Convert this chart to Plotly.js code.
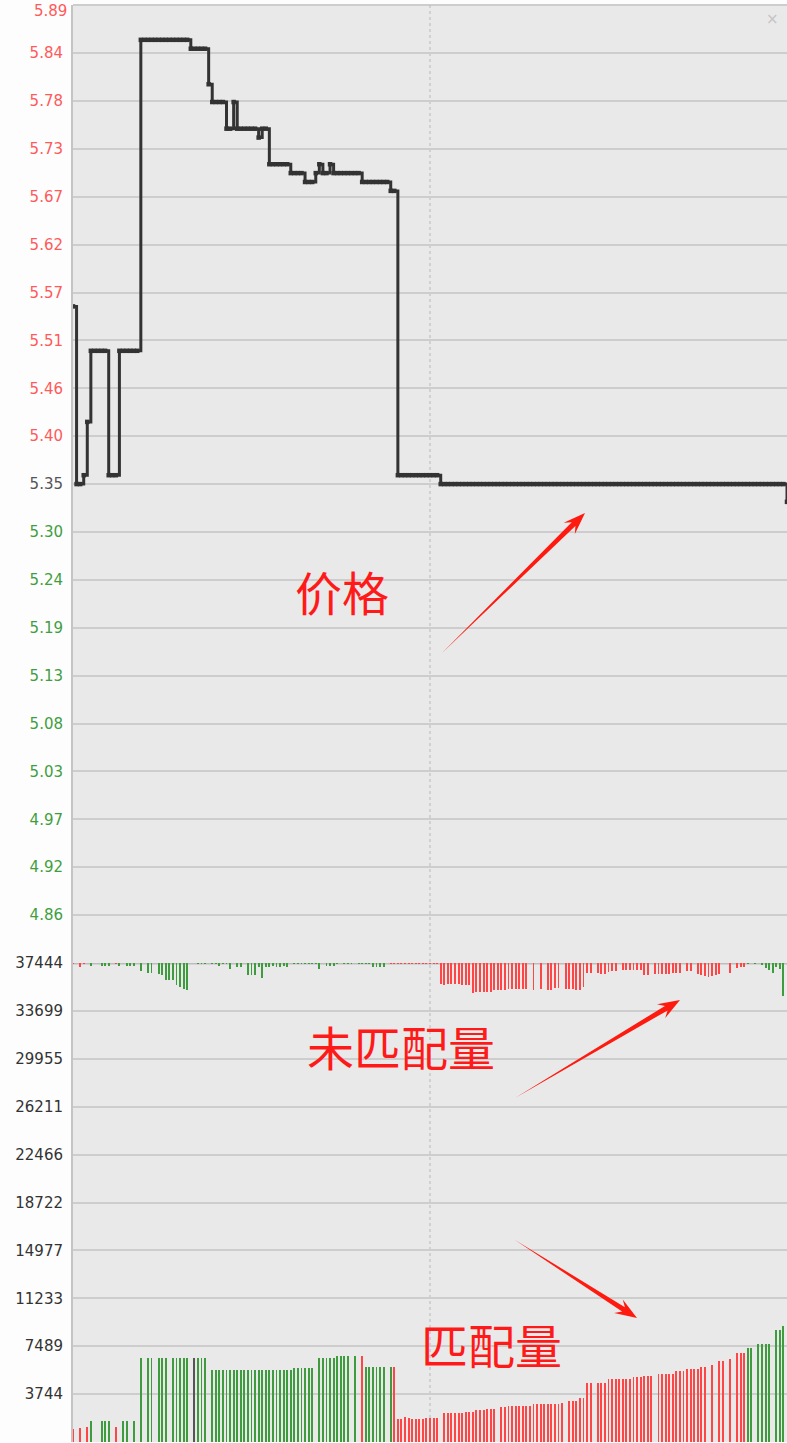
<!DOCTYPE html>
<html>
<head>
<meta charset="utf-8">
<script src="https://cdn.plot.ly/plotly-3.0.1.min.js"></script>
<style>
  html, body { margin: 0; padding: 0; background: #fdfdfd; }
  #chart { width: 787px; height: 1443px; }
</style>
</head>
<body>
<div id="chart"></div>
<script>
// ---- Data (call-auction snapshots, one every 3 seconds from 09:15:00 to 09:25:00) ----
const slotSec = [];
for (let i = 0; i <= 200; i++) slotSec.push(i * 3);   // snapshot timestamps (seconds after 09:15:00)

// Price per snapshot
const price = [
  5.55,5.35,5.35,5.36,5.42,5.50,5.50,5.50,5.50,5.50,
  5.36,5.36,5.36,5.50,5.50,5.50,5.50,5.50,5.50,5.85,
  5.85,5.85,5.85,5.85,5.85,5.85,5.85,5.85,5.85,5.85,
  5.85,5.85,5.85,5.84,5.84,5.84,5.84,5.84,5.80,5.78,
  5.78,5.78,5.78,5.75,5.75,5.78,5.75,5.75,5.75,5.75,
  5.75,5.75,5.74,5.75,5.75,5.71,5.71,5.71,5.71,5.71,
  5.71,5.70,5.70,5.70,5.70,5.69,5.69,5.69,5.70,5.71,
  5.70,5.70,5.71,5.70,5.70,5.70,5.70,5.70,5.70,5.70,
  5.70,5.69,5.69,5.69,5.69,5.69,5.69,5.69,5.69,5.68,
  5.68,5.36,5.36,5.36,5.36,5.36,5.36,5.36,5.36,5.36,
  5.36,5.36,5.36,5.35,5.35,5.35,5.35,5.35,5.35,5.35,
  5.35,5.35,5.35,5.35,5.35,5.35,5.35,5.35,5.35,5.35,
  5.35,5.35,5.35,5.35,5.35,5.35,5.35,5.35,5.35,5.35,
  5.35,5.35,5.35,5.35,5.35,5.35,5.35,5.35,5.35,5.35,
  5.35,5.35,5.35,5.35,5.35,5.35,5.35,5.35,5.35,5.35,
  5.35,5.35,5.35,5.35,5.35,5.35,5.35,5.35,5.35,5.35,
  5.35,5.35,5.35,5.35,5.35,5.35,5.35,5.35,5.35,5.35,
  5.35,5.35,5.35,5.35,5.35,5.35,5.35,5.35,5.35,5.35,
  5.35,5.35,5.35,5.35,5.35,5.35,5.35,5.35,5.35,5.35,
  5.35,5.35,5.35,5.35,5.35,5.35,5.35,5.35,5.35,5.35,
  5.33
];

// Matched volume (匹配量) per snapshot, null = no value
const matchedVol = [
  1015,null,1090,null,1170,1640,null,null,1640,1640,
  1640,null,1170,null,1640,1640,null,1640,null,6580,
  null,6580,6580,null,6580,6580,6580,null,6580,6580,
  6580,6580,6580,null,6580,6580,6580,6580,null,5620,
  5620,5620,5620,5620,5620,5620,5620,5620,5620,5620,
  5620,5620,5620,5620,5620,5620,5620,5620,5620,5620,
  5620,5620,5750,5750,5750,5750,5750,5750,null,6580,
  6580,6580,6580,6580,6716,6716,6716,6716,null,6716,
  null,6716,5880,5880,5880,5880,5880,5880,null,5880,
  5880,1770,1770,1926,1850,1770,1770,1770,1770,1900,
  1900,1900,1900,null,2240,2240,2240,2240,2240,2240,
  2370,2370,2370,2500,2500,2500,2600,2600,2600,null,
  2710,2710,2810,2810,2810,2810,2810,2810,2810,2940,
  2940,2940,2940,2940,2940,2940,2940,3070,null,3200,
  3200,3200,3410,3410,4580,4580,null,4580,4580,4580,
  4920,4920,4920,4920,4920,4920,4920,5050,5050,5050,
  5180,5180,5180,null,5310,5310,5310,5310,5310,5520,
  5520,5520,5720,5720,5720,5720,5860,5860,null,5990,
  null,6350,6350,null,6460,null,6970,6970,6970,7360,
  7360,null,7630,7630,7630,7630,null,8750,8750,9060,
  null
];

// Matched volume side: r = up (red), g = down (green), k = neutral, - = none
const matchedSide = (
  "r-r-rg--gg g-r-gg-g-g -gg-ggg-gg ggg-kggg-g gggggggggg " +
  "gggggggggg gggggggg-g gggggggg-g -rgggggg-g rrrrrrrrrr " +
  "rrr-rrrrrr rrrrrrrrr- rrrrrrrrrr rrrrrrrr-r rrrrrr-rrr " +
  "rrrrrrrrrr rrr-rrrrrr rrrrrrrr-r -rr-r-rrrg g-gggg-ggg -"
).replace(/\s+/g, "").split("");

// Unmatched volume (未匹配量) per snapshot: + = buy side (red), - = sell side (green)
const unmatchedVol = [
  104,0,312,104,0,-260,0,0,-260,-260,
  -260,0,104,-260,0,-260,-260,-260,0,-625,
  0,-755,-755,0,-830,-960,-1300,-1300,-1300,-1740,
  -1870,-2000,-2130,0,0,-52,-52,-52,0,-104,
  -104,-260,-104,-104,-440,0,-312,-312,0,-960,
  -960,-960,-312,-1170,-312,-312,-200,-312,-312,-200,
  -312,0,-52,-104,-52,-104,-52,-52,-104,-440,
  0,-200,-260,-200,-52,0,-52,-52,-52,0,
  -52,-52,-52,-52,-312,-312,-312,-312,0,52,
  52,52,104,104,104,104,104,104,104,104,
  104,104,104,1666,1744,1666,1666,1666,1666,1744,
  1744,1744,2343,2265,2265,2265,2265,2265,2135,2080,
  2135,2135,2000,2000,2000,2000,2000,2000,0,2135,
  0,2000,0,2135,2135,1950,1950,0,2000,2000,
  2000,2135,2080,1875,755,755,0,755,830,830,
  700,625,625,0,520,520,520,520,520,520,
  960,960,0,830,830,830,830,830,755,755,
  755,0,625,625,0,830,960,1040,1090,1040,
  910,830,0,0,755,0,390,312,312,-52,
  0,-104,0,-180,-360,-520,-755,-312,-440,-2600,
  0
];

// Axis ticks
const priceTicks  = [5.889,5.8351,5.7812,5.7273,5.6734,5.6195,5.5656,5.5117,5.4578,5.4039,
                     5.350,5.2961,5.2422,5.1883,5.1344,5.0805,5.0266,4.9727,4.9188,4.8649];
const priceLabels = ['5.89','5.84','5.78','5.73','5.67','5.62','5.57','5.51','5.46','5.40',
                     '5.35','5.30','5.24','5.19','5.13','5.08','5.03','4.97','4.92','4.86'];
const prevClose = 5.35;
const volTicks  = [3744.4,7488.8,11233.2,14977.6,18722,22466.4,26210.8,29955.2,33699.6,37444];
const volLabels = ['3744','7489','11233','14977','18722','22466','26211','29955','33699','37444'];
const volTop = 37444;

// ---- Styling ----
const RED = '#ff4646', GREEN = '#3e9b3e', NEUTRAL = '#555555';
const LABEL_RED = '#ff5a5a', LABEL_GREEN = '#3f9f3f', LABEL_GRAY = '#555555';
const labelColor = v => Math.abs(v - prevClose) < 1e-6 ? LABEL_GRAY : (v > prevClose ? LABEL_RED : LABEL_GREEN);

// top label sits on the upper edge: drawn as an annotation nudged inside the page
const priceText = priceLabels.map((t, k) =>
  k === 0 ? '' : '<span style="color:' + labelColor(priceTicks[k]) + '">' + t + '</span>');

// matched bars
const mX = [], mY = [], mC = [];
matchedVol.forEach((v, i) => {
  if (v === null) return;
  mX.push(slotSec[i]); mY.push(v);
  const s = matchedSide[i];
  mC.push(s === 'r' ? RED : (s === 'g' ? GREEN : NEUTRAL));
});
// unmatched bars hanging from the top of the volume panel
const uX = [], uY = [], uC = [];
unmatchedVol.forEach((v, i) => {
  if (!v) return;
  uX.push(slotSec[i]); uY.push(-Math.abs(v));
  uC.push(v > 0 ? RED : GREEN);
});

const traces = [
  {
    type: 'bar', x: mX, y: mY, xaxis: 'x', yaxis: 'y2',
    width: 1.6, marker: { color: mC, line: { width: 0 } }, hoverinfo: 'x+y'
  },
  {
    type: 'bar', x: uX, y: uY, base: volTop, xaxis: 'x', yaxis: 'y2',
    width: 1.6, marker: { color: uC, line: { width: 0 } }, hoverinfo: 'x+y'
  },
  {
    type: 'scatter', mode: 'lines+markers', x: slotSec, y: price, xaxis: 'x', yaxis: 'y',
    line: { color: '#333333', width: 3, shape: 'hv' },
    marker: { symbol: 'square', size: 4.5, color: '#333333' }
  }
];

// ---- layout helpers (page pixel -> paper) ----
const L = 73, T = 5, W = 714, H = 1437;
const px = x => (x - L) / W;
const py = y => (T + H - y) / H;

function arrowPath(tx, ty, hx, hy) {
  const dx = hx - tx, dy = hy - ty, len = Math.hypot(dx, dy);
  const ux = dx / len, uy = dy / len, nx = -uy, ny = ux;
  const headLen = 22, neckBack = 16, neckW = 2.6, wingW = 8;
  const bx = hx - ux * neckBack, by = hy - uy * neckBack;
  const wx = hx - ux * headLen, wy = hy - uy * headLen;
  const pts = [
    [tx, ty],
    [bx + nx * neckW, by + ny * neckW],
    [wx + nx * wingW, wy + ny * wingW],
    [hx, hy],
    [wx - nx * wingW, wy - ny * wingW],
    [bx - nx * neckW, by - ny * neckW]
  ];
  return 'M' + pts.map(p => px(p[0]).toFixed(5) + ',' + py(p[1]).toFixed(5)).join(' L') + ' Z';
}

const arrows = [[442, 653, 585, 513], [515, 1098, 680, 1000], [515, 1240, 637, 1318]];

const shapes = [
  { type: 'line', xref: 'paper', yref: 'paper', x0: 0, x1: 1, y0: 1, y1: 1,
    line: { color: '#cdcdcd', width: 2 }, layer: 'below' },
  { type: 'line', xref: 'paper', yref: 'y', x0: 0, x1: 1, y0: prevClose, y1: prevClose,
    line: { color: '#b3b3b3', width: 2 }, layer: 'below' },
  { type: 'line', xref: 'paper', yref: 'y2', x0: 0, x1: 1, y0: volTop, y1: volTop,
    line: { color: '#bdbdbd', width: 3 }, layer: 'below' },
  { type: 'line', xref: 'x', yref: 'paper', x0: 300, x1: 300, y0: 0, y1: 1,
    line: { color: '#b8b8b8', width: 1, dash: 'dot' }, layer: 'below' }
].concat(arrows.map(a => ({
  type: 'path', xref: 'paper', yref: 'paper', path: arrowPath(a[0], a[1], a[2], a[3]),
  fillcolor: '#ff1a10', line: { width: 0 }, layer: 'above'
})));

const tickFont = { family: 'DejaVu Sans, Verdana, sans-serif', size: 15, color: '#333333' };
const cjk = 'Noto Sans CJK SC, Noto Sans, sans-serif';
const annotations = [
  { text: '价格', x: px(342), y: py(590) },
  { text: '未匹配量', x: px(401), y: py(1045) },
  { text: '匹配量', x: px(491), y: py(1343) }
].map(a => Object.assign(a, {
  xref: 'paper', yref: 'paper', showarrow: false, xanchor: 'center', yanchor: 'middle',
  font: { family: cjk, size: 47, color: '#ff1a1a' }
})).concat([{
  text: '×', x: px(772), y: py(19), xref: 'paper', yref: 'paper', showarrow: false,
  xanchor: 'center', yanchor: 'middle', font: { family: 'DejaVu Sans', size: 15, color: '#c4c4c4' }
}, {
  text: priceLabels[0], x: 0, xshift: -5, y: py(1), xref: 'paper', yref: 'paper',
  showarrow: false, xanchor: 'right', yanchor: 'top', borderpad: 0,
  font: Object.assign({}, tickFont, { color: labelColor(priceTicks[0]) })
}]);

const layout = {
  width: 787, height: 1443,
  margin: { l: L, r: 0, t: T, b: 1, pad: 0 },
  paper_bgcolor: '#fdfdfd',
  plot_bgcolor: '#e9e9e9',
  showlegend: false,
  barmode: 'overlay',
  bargap: 0,
  xaxis: {
    range: [0, 600], anchor: 'y2', showticklabels: false, showgrid: false,
    zeroline: false, showline: false, ticks: '', fixedrange: true
  },
  yaxis: {
    domain: [1 / 3, 1], range: [4.811, 5.8892], anchor: 'x',
    tickmode: 'array', tickvals: priceTicks, ticktext: priceText,
    tickfont: tickFont, ticks: '', ticklabelstandoff: 5,
    showgrid: true, gridcolor: '#cdcdcd', gridwidth: 2,
    zeroline: false, showline: true, linecolor: '#c4c4c4', linewidth: 2
  },
  yaxis2: {
    domain: [0, 1 / 3], range: [0, 37450], anchor: 'x',
    tickmode: 'array', tickvals: volTicks, ticktext: volLabels,
    tickfont: tickFont, ticks: '', ticklabelstandoff: 5, ticklabeloverflow: 'allow',
    showgrid: true, gridcolor: '#cdcdcd', gridwidth: 2,
    zeroline: false, showline: true, linecolor: '#c4c4c4', linewidth: 2
  },
  shapes: shapes,
  annotations: annotations
};

Plotly.newPlot('chart', traces, layout, { displayModeBar: false, staticPlot: true });
</script>
</body>
</html>
